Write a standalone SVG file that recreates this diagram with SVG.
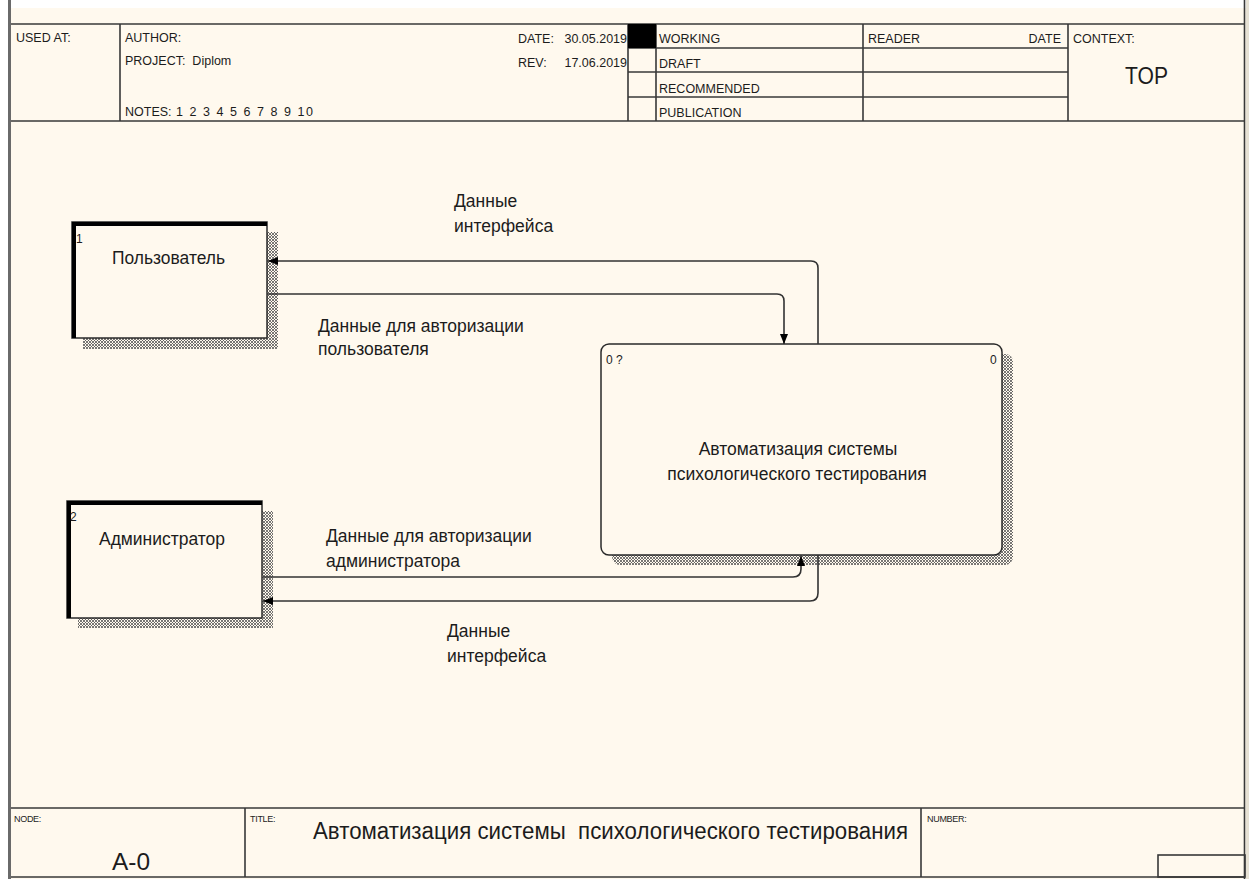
<svg xmlns="http://www.w3.org/2000/svg" width="1249" height="879" viewBox="0 0 1249 879">
<defs>
<style>
text{font-family:"Liberation Sans",Arial,sans-serif;fill:#1c1c1c}
.h{font-size:12.5px}
.s{font-size:9px;letter-spacing:-0.3px}
.lbl{font-size:17.5px}
.num{font-size:12px}
.fr{stroke:#383838;stroke-width:1.6;fill:none}
.box{fill:#FFF9EE;stroke:#2a2a2a;stroke-width:1.5}
.thick{stroke:#000;stroke-width:4;fill:none}
.con{fill:none;stroke:#333;stroke-width:1.6}
</style>
<pattern id="hatch" width="3" height="3" patternUnits="userSpaceOnUse">
<path d="M0,0 L3,3 M3,0 L0,3" stroke="#555" stroke-width="0.8"/>
</pattern>
<marker id="arr" viewBox="0 0 10 8" refX="10" refY="4" markerWidth="10" markerHeight="8" markerUnits="userSpaceOnUse" orient="auto">
<path d="M0,0 L10,4 L0,8 Z" fill="#000"/>
</marker>
</defs>
<rect x="0" y="0" width="1249" height="879" fill="#ffffff"/>
<rect x="11" y="8" width="1238" height="871" fill="#FFF9EE"/>
<rect x="1246" y="0" width="3" height="879" fill="#e6e1d4"/>
<rect x="8" y="0" width="3" height="879" fill="#6a6a6a"/>
<line x1="1244.5" y1="0" x2="1244.5" y2="879" stroke="#383838" stroke-width="1.6"/>

<g id="header">
<line class="fr" x1="11" y1="24" x2="1245" y2="24"/>
<line class="fr" x1="11" y1="121" x2="1245" y2="121"/>
<line class="fr" x1="120" y1="24" x2="120" y2="121"/>
<line class="fr" x1="628" y1="24" x2="628" y2="121"/>
<line class="fr" x1="656" y1="24" x2="656" y2="121"/>
<line class="fr" x1="863" y1="24" x2="863" y2="121"/>
<line class="fr" x1="1068" y1="24" x2="1068" y2="121"/>
<line class="fr" x1="628" y1="48" x2="1068" y2="48"/>
<line class="fr" x1="628" y1="72" x2="1068" y2="72"/>
<line class="fr" x1="628" y1="97" x2="1068" y2="97"/>
<rect x="628" y="24" width="28" height="24" fill="#000"/>
<text class="h" x="16" y="42">USED AT:</text>
<text class="h" x="125" y="42">AUTHOR:</text>
<text class="h" x="125" y="65" xml:space="preserve">PROJECT:  Diplom</text>
<text class="h" x="125" y="116">NOTES:</text>
<text class="h" x="176" y="116" textLength="137" lengthAdjust="spacing">1 2 3 4 5 6 7 8 9 10</text>
<text class="h" x="518" y="43">DATE:</text>
<text class="h" x="627" y="43" text-anchor="end">30.05.2019</text>
<text class="h" x="518" y="67">REV:</text>
<text class="h" x="627" y="67" text-anchor="end">17.06.2019</text>
<text class="h" x="659" y="43">WORKING</text>
<text class="h" x="659" y="68">DRAFT</text>
<text class="h" x="659" y="93">RECOMMENDED</text>
<text class="h" x="659" y="117">PUBLICATION</text>
<text class="h" x="868" y="43">READER</text>
<text class="h" x="1061" y="43" text-anchor="end">DATE</text>
<text class="h" x="1073" y="43">CONTEXT:</text>
<text x="1125" y="84" font-size="23" textLength="43" lengthAdjust="spacingAndGlyphs">TOP</text>
</g>

<g id="footer">
<line class="fr" x1="11" y1="808" x2="1245" y2="808"/>
<line class="fr" x1="11" y1="877" x2="1245" y2="877"/>
<line class="fr" x1="245" y1="808" x2="245" y2="877"/>
<line class="fr" x1="921" y1="808" x2="921" y2="877"/>
<rect class="fr" x="1158" y="855" width="87" height="22"/>
<text class="s" x="14" y="822">NODE:</text>
<text x="112" y="870" font-size="23" textLength="38" lengthAdjust="spacingAndGlyphs">A-0</text>
<text class="s" x="250" y="822">TITLE:</text>
<text x="313" y="839" font-size="23" textLength="595" lengthAdjust="spacingAndGlyphs" xml:space="preserve">Автоматизация системы  психологического тестирования</text>
<text class="s" x="927" y="822">NUMBER:</text>
</g>

<g id="node-1">
<rect x="83" y="232" width="195" height="117" fill="url(#hatch)"/>
<rect class="box" x="72" y="222" width="195" height="116"/>
<path class="thick" d="M74,338 V224 H267"/>
<text class="num" x="76" y="243">1</text>
<text class="lbl" x="112" y="264" textLength="113" lengthAdjust="spacingAndGlyphs">Пользователь</text>
</g>

<g id="node-2">
<rect x="78" y="511" width="195" height="117" fill="url(#hatch)"/>
<rect class="box" x="67" y="501" width="195" height="117"/>
<path class="thick" d="M69,618 V503 H262"/>
<text class="num" x="70" y="521">2</text>
<text class="lbl" x="99" y="545" textLength="126" lengthAdjust="spacingAndGlyphs">Администратор</text>
</g>

<g id="node-0">
<rect x="612" y="354" width="401" height="211" rx="8" fill="url(#hatch)"/>
<rect class="box" x="601" y="344" width="401" height="211" rx="8"/>
<text class="num" x="606" y="364">0 ?</text>
<text class="num" x="990" y="364">0</text>
<text class="lbl" x="798" y="455" text-anchor="middle">Автоматизация системы</text>
<text class="lbl" x="797" y="480" text-anchor="middle">психологического тестирования</text>
</g>

<g id="connectors">
<path class="con" d="M818,344 V268 Q818,261 811,261 H268" marker-end="url(#arr)"/>
<path class="con" d="M268,294 H777 Q784,294 784,301 V344" marker-end="url(#arr)"/>
<path class="con" d="M263,577 H793 Q801,577 801,569 V556" marker-end="url(#arr)"/>
<path class="con" d="M818,555 V593 Q818,601 810,601 H263" marker-end="url(#arr)"/>
<text class="lbl" x="454" y="207">Данные</text>
<text class="lbl" x="454" y="232">интерфейса</text>
<text class="lbl" x="318" y="332">Данные для авторизации</text>
<text class="lbl" x="318" y="355">пользователя</text>
<text class="lbl" x="326" y="542">Данные для авторизации</text>
<text class="lbl" x="326" y="567">администратора</text>
<text class="lbl" x="447" y="637">Данные</text>
<text class="lbl" x="447" y="662">интерфейса</text>
</g>
</svg>
